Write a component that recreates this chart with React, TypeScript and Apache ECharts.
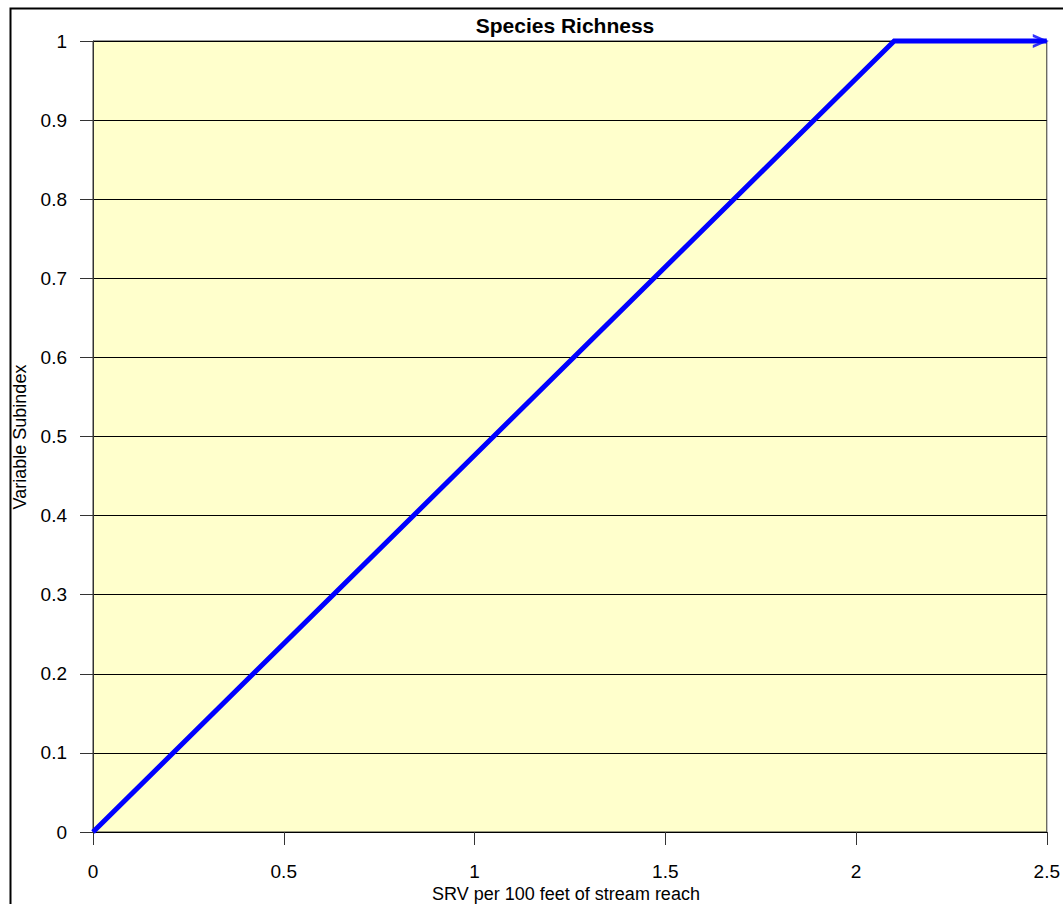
import React, { useEffect, useRef } from "react";
import * as echarts from "echarts";

const chartTitle = "Species Richness";
const xAxisName = "SRV per 100 feet of stream reach";
const yAxisName = "Variable Subindex";
const xValues = [0, 2.1, 2.5];
const yValues = [0, 1, 1];
const xMin = 0, xMax = 2.5, xStep = 0.5;
const yMin = 0, yMax = 1, yStep = 0.1;

const FONT = "'Liberation Sans', Arial, sans-serif";

export default function App() {
  const ref = useRef<HTMLDivElement>(null);
  useEffect(() => {
    document.body.style.margin = "0";
    const chart = echarts.init(ref.current!, null, { renderer: "svg" });
    const linePts = xValues.map((x, i) => [x, yValues[i]]);
    const last = linePts[linePts.length - 1];
    chart.setOption({
      animation: false,
      backgroundColor: "#ffffff",
      textStyle: { fontFamily: FONT },
      grid: {
        left: 93, top: 41, right: 12, bottom: 72,
        show: true, backgroundColor: "#FFFFCC", borderColor: "#333333", borderWidth: 1,
      },
      xAxis: {
        type: "value", min: xMin, max: xMax, interval: xStep,
        axisLine: { show: true, onZero: false, lineStyle: { color: "#000000", width: 1 } },
        axisTick: { show: true, inside: false, length: 13, lineStyle: { color: "#333333" } },
        axisLabel: { margin: 30, fontSize: 19, color: "#000000", fontFamily: FONT, formatter: (v: number) => String(v) },
        splitLine: { show: false },
      },
      yAxis: {
        type: "value", min: yMin, max: yMax, interval: yStep,
        axisLine: { show: true, lineStyle: { color: "#333333", width: 1 } },
        axisTick: { show: true, inside: false, length: 13, lineStyle: { color: "#333333" } },
        axisLabel: { margin: 26, fontSize: 19, color: "#000000", fontFamily: FONT, formatter: (v: number) => String(Math.round(v * 10) / 10) },
        splitLine: { show: true, lineStyle: { color: "#000000", width: 1 } },
      },
      series: [
        {
          type: "line",
          data: linePts,
          symbol: "none",
          lineStyle: { color: "#0000FF", width: 5, join: "miter", cap: "butt" },
          clip: false,
          z: 5,
        },
        {
          type: "scatter",
          data: [last],
          symbol: "path://M0,0 L16,7 L0,14 L0,11 L10,7 L0,3 Z",
          symbolSize: [16, 14],
          symbolOffset: [-6, 0],
          itemStyle: { color: "#0000FF" },
          clip: false,
          z: 6,
        },
      ],
      graphic: [
        {
          type: "rect", left: 8, top: 6, silent: true, z: 100,
          shape: { x: 0, y: 0, width: 1070, height: 910 },
          style: { fill: "none", stroke: "#000000", lineWidth: 2 },
        },
        {
          type: "text", x: 565, y: 25, z: 100,
          style: { text: chartTitle, font: `bold 21px ${FONT}`, fill: "#000000", align: "center", verticalAlign: "middle" },
        },
        {
          type: "text", x: 566, y: 894, z: 100,
          style: { text: xAxisName, font: `18px ${FONT}`, fill: "#000000", align: "center", verticalAlign: "middle" },
        },
        {
          type: "text", x: 20, y: 437, rotation: Math.PI / 2, z: 100,
          style: { text: yAxisName, font: `18px ${FONT}`, fill: "#000000", align: "center", verticalAlign: "middle" },
        },
      ],
    });
    return () => chart.dispose();
  }, []);
  return <div ref={ref} style={{ width: 1063, height: 904 }} />;
}
